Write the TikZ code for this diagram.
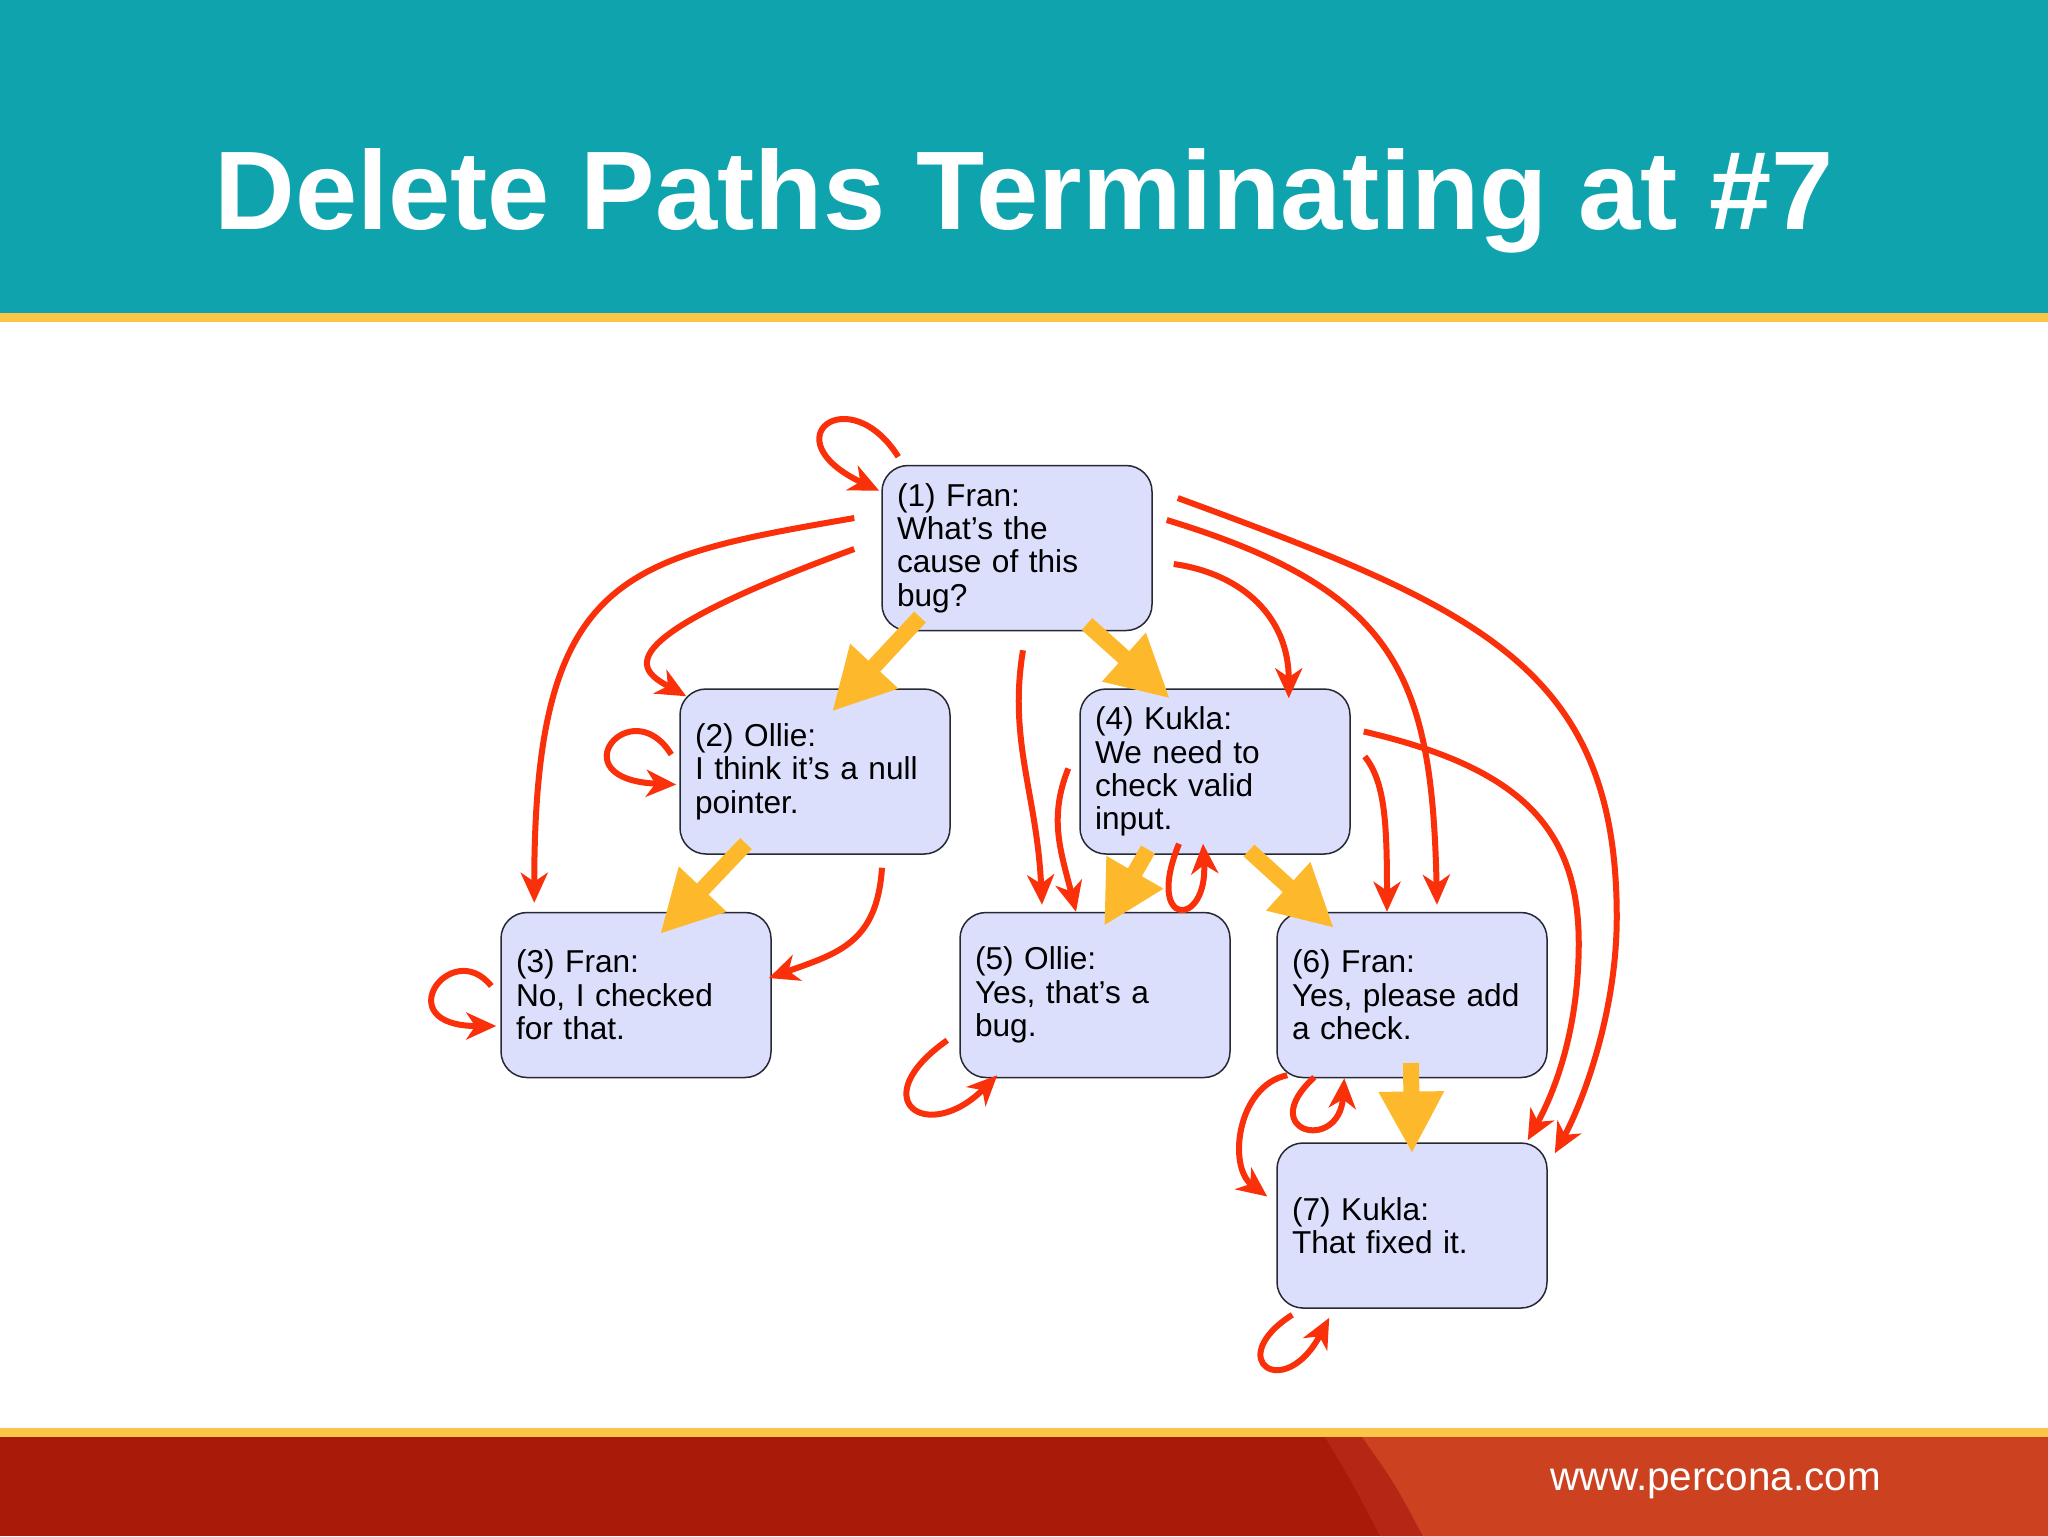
\documentclass[tikz,border=0pt]{standalone}
\usepackage{fontspec}
\setmainfont{Liberation Sans}
\usepackage{tikz}
\usetikzlibrary{positioning,arrows.meta}

\definecolor{headteal}{RGB}{15,163,174}
\definecolor{bandyellow}{RGB}{251,197,72}
\definecolor{footdark}{RGB}{169,26,8}
\definecolor{footmid}{RGB}{181,38,20}
\definecolor{footlight}{RGB}{204,65,32}
\definecolor{msgfill}{RGB}{220,223,252}
\definecolor{msgline}{RGB}{40,40,52}
\definecolor{replyred}{RGB}{250,48,10}
\definecolor{followyellow}{RGB}{253,185,43}

\begin{document}
\begin{tikzpicture}[x=0.1mm,y=0.1mm,
	msg/.style={draw=msgline,line width=0.15mm,fill=msgfill,rounded corners=2.6mm,minimum width=27mm,minimum height=16.5mm,text width=24mm,align=left,inner sep=0pt,font=\fontsize{9}{9.5}\selectfont},
	reply/.style={draw=replyred,line width=0.6mm,-{Stealth[length=3mm,width=2.7mm,inset=0.9mm]}},
	follow/.style={draw=followyellow,line width=1.6mm,-{Triangle[length=6.2mm,width=6.1mm]}}]
		\useasboundingbox (0,0) rectangle (2048,-1536);
		\fill[white] (0,0) rectangle (2048,-1536);
		
		% header and footer bands
		\fill[headteal] (0,0) rectangle (2048,-313);
		\fill[bandyellow] (0,-313) rectangle (2048,-322);
		\fill[bandyellow] (0,-1428) rectangle (2048,-1437);
		\fill[footdark] (0,-1437) rectangle (2048,-1536);
		\fill[footmid] (1325,-1437) .. controls (1352,-1482) .. (1380,-1536) -- (2048,-1536) -- (2048,-1437) -- cycle;
		\fill[footlight] (1362,-1437) .. controls (1394,-1482) .. (1423,-1536) -- (2048,-1536) -- (2048,-1437) -- cycle;
		
		\node[text=white,font=\fontsize{31.8}{38}\selectfont\bfseries,anchor=base,inner sep=0pt] (title) at (1024,-229) {Delete Paths Terminating at \#7};
		\node[text=white,font=\fontsize{11.5}{14}\selectfont,anchor=base west,inner sep=0pt] (url) at (1550,-1490) {www.percona.com};
		
		% messages
		\node[msg] (n1) at (1017,-548) {(1) Fran:\\What’s the\\cause of this\\bug?};
		\node[msg,below=5.7mm of n1,xshift=-20.2mm] (n2) {(2) Ollie:\\I think it’s a null\\pointer.};
		\node[msg,below=5.7mm of n1,xshift=19.8mm] (n4) {(4) Kukla:\\We need to\\check valid\\input.};
		\node[msg,below=5.7mm of n2,xshift=-17.9mm] (n3) {(3) Fran:\\No, I checked\\for that.};
		\node[msg,below=5.7mm of n4,xshift=-12mm] (n5) {(5) Ollie:\\Yes, that’s a\\bug.};
		\node[msg,below=5.7mm of n4,xshift=19.7mm] (n6) {(6) Fran:\\Yes, please add\\a check.};
		\node[msg,below=6.4mm of n6] (n7) {(7) Kukla:\\That fixed it.};
		
		% follow-ups
		\draw[follow] ([shift={(-97,-69)}]n1.center) -- ([shift={(17,60)}]n2.center);
		\draw[follow] ([shift={(70,-76)}]n1.center) -- ([shift={(-45,73)}]n4.center);
		\draw[follow] ([shift={(-69,-72)}]n2.center) -- ([shift={(24,61)}]n3.center);
		\draw[follow] ([shift={(-67,-78)}]n4.center) -- ([shift={(9,69)}]n5.center);
		\draw[follow] ([shift={(34,-79)}]n4.center) -- ([shift={(-78,67)}]n6.center);
		\draw[follow] ([shift={(-1,-68)}]n6.center) -- ([shift={(0,72)}]n7.center);
		
		% replies
		\draw[reply] ([shift={(17,8)}]n1.north west) .. controls +(-49,78) and +(-110,52) .. ([shift={(-2,-26)}]n1.north west);
		\draw[reply] ([shift={(-27,30)}]n1.west) .. controls +(-230,-40) and +(0,330) .. ([shift={(34,9)}]n3.north west);
		\draw[reply] ([shift={(-27,-1)}]n1.west) .. controls +(-260,-95) and +(-45,25) .. ([shift={(7,-8)}]n2.north west);
		\draw[reply] ([shift={(-8,17)}]n2.west) .. controls +(-40,65) and +(-120,5) .. ([shift={(-3,-13)}]n2.west);
		\draw[reply] ([shift={(67,-13)}]n2.south) .. controls +(-5,-75) and +(70,25) .. ([shift={(-3,17)}]n3.east);
		\draw[reply] ([shift={(-9,9)}]n3.west) .. controls +(-40,50) and +(-110,0) .. ([shift={(-4,-31)}]n3.west);
		\draw[reply] ([shift={(6,-19)}]n1.south) .. controls +(-15,-90) and +(-5,110) .. ([shift={(-53,7)}]n5.north);
		\draw[reply] ([shift={(-11,3)}]n4.west) .. controls +(-20,-50) and +(-15,60) .. ([shift={(-19,0)}]n5.north);
		\draw[reply] ([shift={(-36,11)}]n4.south) .. controls +(-35,-85) and +(5,-85) .. ([shift={(-12,11)}]n4.south);
		\draw[reply] ([shift={(21,-16)}]n1.east) .. controls +(70,-10) and +(0,80) .. ([shift={(-62,-10)}]n4.north east);
		\draw[reply] ([shift={(14,28)}]n1.east) .. controls +(230,-70) and +(-5,230) .. ([shift={(25,7)}]n6.north);
		\draw[reply] ([shift={(25,50)}]n1.east) .. controls +(300,-110) and +(0,250) .. ([shift={(69,78)}]n6.east) .. controls +(0,-100) and +(25,45) .. ([shift={(7,-11)}]n7.north east);
		\draw[reply] ([shift={(13,40)}]n4.east) .. controls +(150,-35) and +(0,120) .. ([shift={(31,52)}]n6.east) .. controls +(0,-90) and +(25,45) .. ([shift={(-20,2)}]n7.north east);
		\draw[reply] ([shift={(14,15)}]n4.east) .. controls +(20,-25) and +(0,90) .. ([shift={(-25,0)}]n6.north);
		\draw[reply] ([shift={(38,1)}]n6.south west) .. controls +(-60,-55) and +(-5,-75) .. ([shift={(68,0)}]n6.south west);
		\draw[reply] ([shift={(11,3)}]n6.south west) .. controls +(-50,-10) and +(-40,30) .. ([shift={(-9,29)}]n7.west);
		\draw[reply] ([shift={(-12,38)}]n5.south west) .. controls +(-85,-60) and +(-70,-70) .. ([shift={(38,3)}]n5.south west);
		\draw[reply] ([shift={(16,-6)}]n7.south west) .. controls +(-70,-45) and +(-45,-85) .. ([shift={(53,-9)}]n7.south west);
	\end{tikzpicture}
\end{document}
